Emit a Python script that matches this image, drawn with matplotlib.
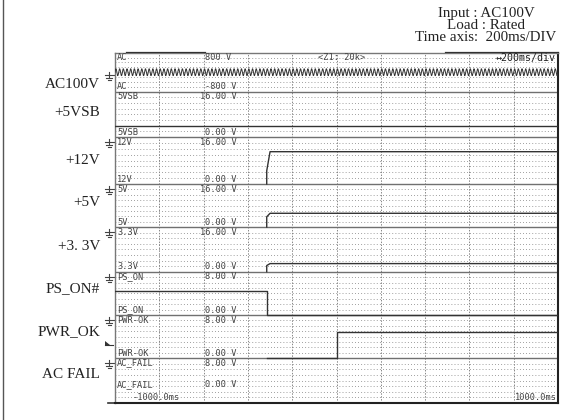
import numpy as np
import matplotlib.pyplot as plt
from matplotlib.patches import Polygon

# Channels, top to bottom
channels = ["AC", "5VSB", "12V", "5V", "3.3V", "PS_ON", "PWR-OK", "AC_FAIL"]
side_labels = ["AC100V", "+5VSB", "+12V", "+5V", "+3. 3V", "PS_ON#", "PWR_OK", "AC FAIL"]
top_scale = ["800 V", "16.00 V", "16.00 V", "16.00 V", "16.00 V", "8.00 V", "8.00 V", "8.00 V"]
bottom_scale = ["-800 V", "0.00 V", "0.00 V", "0.00 V", "0.00 V", "0.00 V", "0.00 V", "0.00 V"]
full_scale = [800, 16, 16, 16, 16, 8, 8, 8]

# AC input (~60 Hz, ~141 V peak)
ac_freq_hz = 60
ac_peak_v = 141

# Traces, time in ms, level in V
t_5vsb = [-1000, 1000]
v_5vsb = [4.0, 4.0]
t_12v = [-315, -315, -300, 1000]
v_12v = [0, 4.5, 11.0, 11.0]
t_5v = [-315, -315, -300, 1000]
v_5v = [0, 3.8, 5.1, 5.1]
t_33v = [-315, -315, -300, 1000]
v_33v = [0, 2.2, 2.9, 2.9]
t_pson = [-1000, -313, -313, 1000]
v_pson = [4.5, 4.5, 0, 0]
t_pwrok = [-313, 2, 2, 1000]
v_pwrok = [0, 0, 4.8, 4.8]

header = ["Input : AC100V", "Load : Rated", "Time axis:  200ms/DIV"]
time_left = "-1000.0ms"
time_right = "1000.0ms"

W, H = 582, 420
fig = plt.figure(figsize=(W / 100, H / 100), dpi=100)
fig.patch.set_facecolor("white")

# layout in pixels
x0, x1 = 115, 558
row_edges = [52.7, 91.7, 137, 184, 227, 271.7, 315, 358, 403]

# overlay axes in pixel coordinates for the margin decorations
ov = fig.add_axes([0, 0, 1, 1])
ov.set_xlim(0, W)
ov.set_ylim(H, 0)
ov.axis("off")
ov.plot([3, 3], [0, H], color="#555555", lw=1.0)

label_y = [84, 112, 160, 203, 246, 289, 332, 374]
for lab, yc in zip(side_labels, label_y):
    ov.text(100, yc, lab, ha="right", va="center", fontsize=11,
            family="Liberation Serif", color="#222222")

for k, line in enumerate(header):
    ov.text(486, 13 + k * 12.3, line, ha="center", va="center", fontsize=10.8,
            family="Liberation Serif", color="#222222")

# ground symbols at each channel zero
gnd_y = [75] + [row_edges[i + 1] + 5 for i in range(1, 7)]
for y0 in gnd_y:
    ov.plot([105, 115], [y0, y0], color="#444444", lw=0.8)
    ov.plot([109, 109], [y0 - 3, y0 + 2], color="#444444", lw=0.8)
    ov.plot([106, 112], [y0 + 3, y0 + 3], color="#444444", lw=0.8)
    ov.plot([107.5, 110.5], [y0 + 5, y0 + 5], color="#444444", lw=0.8)
# trigger marker on PWR_OK
ov.add_patch(Polygon([[105, 345], [110, 345], [105, 341]], closed=True,
                     color="#333333", lw=0))
ov.plot([105, 113], [345, 345], color="#333333", lw=0.8)
ov.plot([108, x0], [403, 403], color="#333333", lw=1.2)
# darker top border segments
ov.plot([127, 205], [52.7, 52.7], color="#222222", lw=1.6)
ov.plot([446, 558], [52.7, 52.7], color="#222222", lw=1.6)

# main scope screen
ax = fig.add_axes([x0 / W, 1 - row_edges[-1] / H, (x1 - x0) / W,
                   (row_edges[-1] - row_edges[0]) / H])
ax.set_xlim(-1000, 1000)
ax.set_ylim(row_edges[-1], row_edges[0])
ax.set_xticks([])
ax.set_yticks([])
for side in ["left", "top"]:
    ax.spines[side].set_color("#777777")
    ax.spines[side].set_linewidth(1.0)
for side in ["right", "bottom"]:
    ax.spines[side].set_color("#222222")
    ax.spines[side].set_linewidth(1.5)

# grid
for t in range(-800, 1000, 200):
    ax.axvline(t, color="#888888", lw=0.7, ls=(0, (1.5, 1.5)), zorder=1)
for i in range(8):
    top, bot = row_edges[i], row_edges[i + 1]
    for k in range(1, 8):
        y = top + (bot - top) * k / 8
        ax.axhline(y, color="#888888", lw=0.7, ls=(0, (0.8, 2.4)), zorder=1)
    if i > 0:
        ax.axhline(top, color="#707070", lw=1.0, zorder=2)


def to_y(i, v):
    top, bot = row_edges[i], row_edges[i + 1]
    if i == 0:
        return (top + bot) / 2 - np.asarray(v) / full_scale[0] * (bot - top) / 2
    return bot - np.asarray(v, dtype=float) / full_scale[i] * (bot - top)


# AC waveform
t_ac = np.linspace(-1000, 1000, 4000)
v_ac = ac_peak_v * np.sin(2 * np.pi * ac_freq_hz * t_ac / 1000)
ax.plot(t_ac, to_y(0, v_ac), color="#333333", lw=0.7, zorder=3)

traces = [(1, t_5vsb, v_5vsb), (2, t_12v, v_12v), (3, t_5v, v_5v),
          (4, t_33v, v_33v), (5, t_pson, v_pson), (6, t_pwrok, v_pwrok)]
for i, t, v in traces:
    ax.plot(t, to_y(i, v), color="#333333", lw=1.0, zorder=3)

# channel annotations in the scope font
mono = dict(family="DejaVu Sans Mono", fontsize=6.2, color="#444444", zorder=4)


def px_t(x):
    return (x - x0) / (x1 - x0) * 2000 - 1000


for i, name in enumerate(channels):
    top, bot = row_edges[i], row_edges[i + 1]
    ax.text(px_t(117), top + 0.5, name, ha="left", va="top", **mono)
    xs = 200 if top_scale[i].startswith("16") else 205
    ax.text(px_t(xs), top + 0.5, top_scale[i], ha="left", va="top", **mono)
    yb = bot - 0.5 if i < 7 else 389
    ax.text(px_t(117), yb, name, ha="left", va="bottom", **mono)
    ax.text(px_t(205), yb, bottom_scale[i], ha="left", va="bottom", **mono)

ax.text(px_t(318), row_edges[0] + 0.5, "<Z1: 20k>", ha="left", va="top", **mono)
ax.text(px_t(556), row_edges[0] + 0.5, "\u2194200ms/div", ha="right", va="top",
        family="DejaVu Sans Mono", fontsize=7.2, color="#222222", zorder=4)
ax.text(px_t(133), 401.5, time_left, ha="left", va="bottom", **mono)
ax.text(px_t(557), 401.5, time_right, ha="right", va="bottom", **mono)

fig.savefig("out.png", dpi=100)
